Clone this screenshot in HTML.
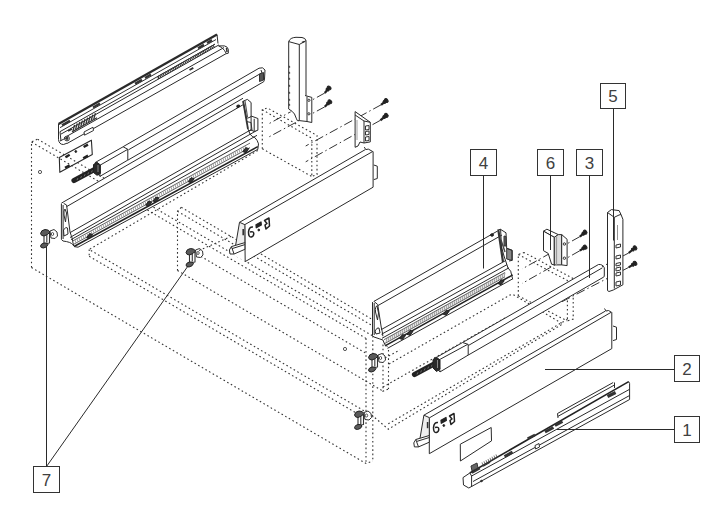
<!DOCTYPE html>
<html><head><meta charset="utf-8"><style>
html,body{margin:0;padding:0;background:#fff;width:720px;height:519px;overflow:hidden}
svg{display:block;font-family:"Liberation Sans",sans-serif}
</style></head><body>
<svg width="720" height="519" viewBox="0 0 720 519"><polyline points="31.5,267.5 31.5,142 37.6,139.2" stroke="#333" stroke-width="1.1" fill="none" stroke-dasharray="1.6 2.6"/>
<polyline points="31.5,142 366,338.3515" stroke="#333" stroke-width="1.1" fill="none" stroke-dasharray="1.6 2.6"/>
<polyline points="37.6,139.2 372.8,335.9624" stroke="#333" stroke-width="1.1" fill="none" stroke-dasharray="1.6 2.6"/>
<polyline points="31.5,267.5 366,463.5 372.8,461" stroke="#333" stroke-width="1.1" fill="none" stroke-dasharray="1.6 2.6"/>
<polyline points="366,338.3515 366,463.5" stroke="#333" stroke-width="1.1" fill="none" stroke-dasharray="1.6 2.6"/>
<polyline points="372.8,335.9624 372.8,461" stroke="#333" stroke-width="1.1" fill="none" stroke-dasharray="1.6 2.6"/>
<polyline points="177.5,270.5 177.5,211.3 181.3,207.3" stroke="#333" stroke-width="1.1" fill="none" stroke-dasharray="1.6 2.6"/>
<polyline points="177.5,211.3 383,331.9285" stroke="#333" stroke-width="1.1" fill="none" stroke-dasharray="1.6 2.6"/>
<polyline points="181.3,207.3 388.5,328.9264" stroke="#333" stroke-width="1.1" fill="none" stroke-dasharray="1.6 2.6"/>
<polyline points="177.5,270.5 383,391.1285" stroke="#333" stroke-width="1.1" fill="none" stroke-dasharray="1.6 2.6"/>
<polyline points="383,331.9285 383,391.1285 388.5,389" stroke="#333" stroke-width="1.1" fill="none" stroke-dasharray="1.6 2.6"/>
<polyline points="388.5,328.9264 388.5,389" stroke="#333" stroke-width="1.1" fill="none" stroke-dasharray="1.6 2.6"/>
<polyline points="190,250 366,353.312" stroke="#333" stroke-width="1.1" fill="none" stroke-dasharray="1.6 2.6"/>
<polyline points="257.8,150.5 89.2,249.5 372.8,415.9732" stroke="#333" stroke-width="1.1" fill="none" stroke-dasharray="1.6 2.6"/>
<polyline points="89.2,256.3 366,418.7816" stroke="#333" stroke-width="1.1" fill="none" stroke-dasharray="1.6 2.6"/>
<polyline points="89.2,249.5 89.2,256.3" stroke="#333" stroke-width="1.1" fill="none" stroke-dasharray="1.6 2.6"/>
<polyline points="389,364 510,295 513,294.5 562.8,323.9 388.3,429.2 371.7,415" stroke="#333" stroke-width="1.1" fill="none" stroke-dasharray="1.6 2.6"/>
<polyline points="567.4,319.3 388.3,423.8" stroke="#333" stroke-width="1.1" fill="none" stroke-dasharray="1.6 2.6"/>
<polyline points="383,387 505,318" stroke="#333" stroke-width="1.1" fill="none" stroke-dasharray="1.6 2.6"/>
<polyline points="262.3,148.8 262.3,109.7 267.5,108" stroke="#333" stroke-width="1.1" fill="none" stroke-dasharray="1.6 2.6"/>
<polyline points="262.3,109.7 311.8,138.3 311.8,176.5 317,174.5 317,135.5 267.5,108" stroke="#333" stroke-width="1.1" fill="none" stroke-dasharray="1.6 2.6"/>
<polyline points="262.3,148.8 311.8,176.5" stroke="#333" stroke-width="1.1" fill="none" stroke-dasharray="1.6 2.6"/>
<polyline points="518.3,295.9 518.3,254.5 524.1,252.5" stroke="#333" stroke-width="1.1" fill="none" stroke-dasharray="1.6 2.6"/>
<polyline points="518.3,254.5 567.4,280.5 567.4,321 573.2,319 573.2,278.5 524.1,252.5" stroke="#333" stroke-width="1.1" fill="none" stroke-dasharray="1.6 2.6"/>
<polyline points="518.3,295.9 567.4,321" stroke="#333" stroke-width="1.1" fill="none" stroke-dasharray="1.6 2.6"/>
<polyline points="324.8,93 267.5,124.5" stroke="#333" stroke-width="1" fill="none" stroke-dasharray="9 3 1.5 3"/>
<polyline points="324.8,106.8 267.5,137.7" stroke="#333" stroke-width="1" fill="none" stroke-dasharray="9 3 1.5 3"/>
<polyline points="381.1,104.8 305.7,146" stroke="#333" stroke-width="1" fill="none" stroke-dasharray="9 3 1.5 3"/>
<polyline points="380.4,120.3 305.7,161.8" stroke="#333" stroke-width="1" fill="none" stroke-dasharray="9 3 1.5 3"/>
<polyline points="579.9,236.6 522.2,268.9" stroke="#333" stroke-width="1" fill="none" stroke-dasharray="9 3 1.5 3"/>
<polyline points="579.9,250.7 522.2,283.4" stroke="#333" stroke-width="1" fill="none" stroke-dasharray="9 3 1.5 3"/>
<polyline points="628.7,253 560,288.3" stroke="#333" stroke-width="1" fill="none" stroke-dasharray="9 3 1.5 3"/>
<polyline points="628.7,267.4 560,302.7" stroke="#333" stroke-width="1" fill="none" stroke-dasharray="9 3 1.5 3"/>
<polygon points="58.5,124 217,34.5 218,44 228,50 227,54 67,143.5 60,143" stroke="none" stroke-width="0" fill="#fff" stroke-linejoin="round"/>
<line x1="58.5" y1="124" x2="217" y2="34.495050000000006" stroke="#2a2a2a" stroke-width="2.2"/>
<line x1="217" y1="34.5" x2="218" y2="43.5" stroke="#2a2a2a" stroke-width="1"/>
<line x1="60" y1="131.65295" x2="215" y2="44.12445000000001" stroke="#2a2a2a" stroke-width="1"/>
<line x1="61" y1="134.08825000000002" x2="219" y2="44.86565" stroke="#2a2a2a" stroke-width="1"/>
<line x1="64" y1="137.89415" x2="224" y2="47.54215000000001" stroke="#2a2a2a" stroke-width="1"/>
<line x1="67" y1="143.50005000000002" x2="226.6" y2="53.37393" stroke="#2a2a2a" stroke-width="1"/>
<path d="M58.5,124 L58.5,139.5 Q59,144.5 63.5,144.5 L67,143.2" stroke="#2a2a2a" stroke-width="1" fill="none" stroke-linejoin="round"/>
<line x1="60" y1="131.7" x2="61" y2="141" stroke="#2a2a2a" stroke-width="1"/>
<path d="M218.6,45.9 L224.4,45.9 Q227.5,46.5 228.3,49.3 L228.3,53.2 L226.4,53.7" stroke="#2a2a2a" stroke-width="1" fill="none" stroke-linejoin="round"/>
<line x1="224.4" y1="50.3" x2="226.4" y2="53.7" stroke="#2a2a2a" stroke-width="1"/>
<path d="M218.6,45.9 Q222,47 224.4,50.3" stroke="#2a2a2a" stroke-width="1" fill="none" stroke-linejoin="round"/>
<line x1="226.5" y1="48" x2="227" y2="52" stroke="#333" stroke-width="1.5"/>
<line x1="158.0" y1="76.31235000000001" x2="159.3" y2="78.57824" stroke="#333" stroke-width="1.1"/>
<line x1="159.67" y1="75.36930100000001" x2="160.97" y2="77.635191" stroke="#333" stroke-width="1.1"/>
<line x1="161.34" y1="74.426252" x2="162.64000000000001" y2="76.69214199999999" stroke="#333" stroke-width="1.1"/>
<line x1="163.01" y1="73.483203" x2="164.31" y2="75.749093" stroke="#333" stroke-width="1.1"/>
<line x1="164.68" y1="72.540154" x2="165.98000000000002" y2="74.80604399999999" stroke="#333" stroke-width="1.1"/>
<line x1="166.35" y1="71.597105" x2="167.65" y2="73.862995" stroke="#333" stroke-width="1.1"/>
<line x1="168.02" y1="70.654056" x2="169.32000000000002" y2="72.91994599999998" stroke="#333" stroke-width="1.1"/>
<line x1="169.69" y1="69.711007" x2="170.99" y2="71.976897" stroke="#333" stroke-width="1.1"/>
<line x1="171.36" y1="68.767958" x2="172.66000000000003" y2="71.03384799999999" stroke="#333" stroke-width="1.1"/>
<line x1="173.03" y1="67.824909" x2="174.33" y2="70.09079899999999" stroke="#333" stroke-width="1.1"/>
<line x1="174.7" y1="66.88186" x2="176.0" y2="69.14775" stroke="#333" stroke-width="1.1"/>
<line x1="176.37" y1="65.938811" x2="177.67000000000002" y2="68.204701" stroke="#333" stroke-width="1.1"/>
<line x1="178.04" y1="64.99576200000001" x2="179.34" y2="67.261652" stroke="#333" stroke-width="1.1"/>
<line x1="179.71" y1="64.052713" x2="181.01000000000002" y2="66.318603" stroke="#333" stroke-width="1.1"/>
<line x1="181.38" y1="63.10966400000001" x2="182.68" y2="65.375554" stroke="#333" stroke-width="1.1"/>
<line x1="183.05" y1="62.16661499999999" x2="184.35000000000002" y2="64.43250499999999" stroke="#333" stroke-width="1.1"/>
<line x1="184.72" y1="61.223566000000005" x2="186.02" y2="63.48945599999999" stroke="#333" stroke-width="1.1"/>
<line x1="186.39" y1="60.280517" x2="187.69" y2="62.546407" stroke="#333" stroke-width="1.1"/>
<line x1="188.06" y1="59.337468" x2="189.36" y2="61.603358" stroke="#333" stroke-width="1.1"/>
<line x1="189.73" y1="58.39441900000001" x2="191.03" y2="60.660309" stroke="#333" stroke-width="1.1"/>
<line x1="191.4" y1="57.45137" x2="192.70000000000002" y2="59.717259999999996" stroke="#333" stroke-width="1.1"/>
<line x1="193.07" y1="56.50832100000001" x2="194.37" y2="58.774210999999994" stroke="#333" stroke-width="1.1"/>
<line x1="194.74" y1="55.56527199999999" x2="196.04000000000002" y2="57.83116199999999" stroke="#333" stroke-width="1.1"/>
<line x1="196.41" y1="54.622223000000005" x2="197.71" y2="56.888113000000004" stroke="#333" stroke-width="1.1"/>
<line x1="198.07999999999998" y1="53.67917400000002" x2="199.38" y2="55.945064" stroke="#333" stroke-width="1.1"/>
<line x1="199.75" y1="52.736125" x2="201.05" y2="55.002015" stroke="#333" stroke-width="1.1"/>
<line x1="201.42000000000002" y1="51.793076" x2="202.72000000000003" y2="54.058965999999984" stroke="#333" stroke-width="1.1"/>
<line x1="203.09" y1="50.850027" x2="204.39000000000001" y2="53.115916999999996" stroke="#333" stroke-width="1.1"/>
<line x1="204.76" y1="49.90697800000001" x2="206.06" y2="52.17286800000001" stroke="#333" stroke-width="1.1"/>
<line x1="206.43" y1="48.96392899999999" x2="207.73000000000002" y2="51.22981899999999" stroke="#333" stroke-width="1.1"/>
<line x1="208.1" y1="48.020880000000005" x2="209.4" y2="50.286770000000004" stroke="#333" stroke-width="1.1"/>
<line x1="209.76999999999998" y1="47.07783100000002" x2="211.07" y2="49.343721" stroke="#333" stroke-width="1.1"/>
<line x1="211.44" y1="46.134782" x2="212.74" y2="48.400672" stroke="#333" stroke-width="1.1"/>
<line x1="213.11" y1="45.191733" x2="214.41000000000003" y2="47.457622999999984" stroke="#333" stroke-width="1.1"/>
<line x1="158" y1="76.31235000000001" x2="215" y2="44.12445000000001" stroke="#333" stroke-width="0.8"/>
<line x1="158" y1="76.31235000000001" x2="158.5" y2="79.03" stroke="#333" stroke-width="1.2"/>
<line x1="189.5" y1="70.0243" x2="193.3" y2="67.87844" stroke="#333" stroke-width="1.8"/>
<line x1="62" y1="125.22355" x2="70" y2="120.70595" stroke="#333" stroke-width="2.4"/>
<line x1="93" y1="107.51785" x2="100" y2="103.56495" stroke="#333" stroke-width="2.4"/>
<line x1="135" y1="83.80045000000001" x2="142" y2="79.84755" stroke="#333" stroke-width="2.4"/>
<line x1="145" y1="77.95344999999999" x2="151" y2="74.56525" stroke="#333" stroke-width="2.4"/>
<line x1="198" y1="48.22435" x2="204" y2="44.83615" stroke="#333" stroke-width="2.4"/>
<line x1="207" y1="42.942049999999995" x2="212" y2="40.11855" stroke="#333" stroke-width="2.4"/>
<line x1="60" y1="127.65295" x2="216" y2="39.55975000000001" stroke="#333" stroke-width="1"/>
<line x1="73.0" y1="130.81185" x2="74.6" y2="124.90833" stroke="#333" stroke-width="1.3"/>
<line x1="75.6" y1="129.34363000000002" x2="77.19999999999999" y2="123.44011" stroke="#333" stroke-width="1.3"/>
<line x1="78.2" y1="127.87541" x2="79.8" y2="121.97189" stroke="#333" stroke-width="1.3"/>
<line x1="80.8" y1="126.40719" x2="82.39999999999999" y2="120.50367" stroke="#333" stroke-width="1.3"/>
<line x1="83.4" y1="124.93897" x2="85.0" y2="119.03545" stroke="#333" stroke-width="1.3"/>
<line x1="86.0" y1="123.47075" x2="87.6" y2="117.56723" stroke="#333" stroke-width="1.3"/>
<line x1="88.6" y1="122.00253000000001" x2="90.19999999999999" y2="116.09901" stroke="#333" stroke-width="1.3"/>
<line x1="91.2" y1="120.53431" x2="92.8" y2="114.63079" stroke="#333" stroke-width="1.3"/>
<line x1="93.8" y1="119.06609" x2="95.39999999999999" y2="113.16257" stroke="#333" stroke-width="1.3"/>
<line x1="72" y1="131.87655" x2="97" y2="117.75905" stroke="#333" stroke-width="1.2"/>
<polygon points="84,132 93,127.2 93.5,130.5 84.5,135.2" stroke="#333" stroke-width="1" fill="#fff" stroke-linejoin="round"/>
<ellipse cx="67" cy="138.5" rx="2.4" ry="2.4" transform="rotate(0 67 138.5)" fill="#fff" stroke="#333" stroke-width="1"/>
<ellipse cx="67" cy="138.5" rx="1" ry="1" transform="rotate(0 67 138.5)" fill="#333" stroke="#333" stroke-width="1"/>
<line x1="60" y1="141" x2="68" y2="137" stroke="#333" stroke-width="1"/>
<line x1="68" y1="131" x2="72" y2="129" stroke="#333" stroke-width="1.5"/>
<polygon points="95.4,162.4 259,68.2 265,71 263,83 100,176.3 95.6,172" stroke="none" stroke-width="0" fill="#fff" stroke-linejoin="round"/>
<line x1="123.1" y1="146.70975" x2="259" y2="68.2275" stroke="#2a2a2a" stroke-width="1"/>
<line x1="128.5" y1="149.79125" x2="262" y2="72.695" stroke="#2a2a2a" stroke-width="1"/>
<line x1="127.8" y1="160.19549999999998" x2="263" y2="82.11749999999999" stroke="#2a2a2a" stroke-width="1"/>
<path d="M259,68.2 Q263,66.5 265,70 L264.5,79 Q264,82.5 263,82.1" stroke="#2a2a2a" stroke-width="1" fill="none" stroke-linejoin="round"/>
<line x1="261" y1="70" x2="262" y2="72.695" stroke="#2a2a2a" stroke-width="1"/>
<polygon points="259.5,74 263.5,72.5 263.5,80 259.5,81.5" stroke="#333" stroke-width="1" fill="#555" stroke-linejoin="round"/>
<polygon points="123.1,146.8 95.4,162.4 95.8,172 100,176.3 127.8,160.1 127.8,149.3 123.1,146.8" stroke="#2a2a2a" stroke-width="1" fill="#fff" stroke-linejoin="round"/>
<line x1="95.4" y1="162.4" x2="99.5" y2="165.5" stroke="#2a2a2a" stroke-width="1"/>
<line x1="99.5" y1="165.5" x2="127.8" y2="149.3" stroke="#2a2a2a" stroke-width="1"/>
<line x1="99.5" y1="165.5" x2="100" y2="176.3" stroke="#2a2a2a" stroke-width="1"/>
<line x1="74" y1="180.5" x2="95" y2="169.3" stroke="#222" stroke-width="5.2" stroke-linecap="round"/>
<line x1="77.0" y1="180.101" x2="77.9" y2="178.08069999999998" stroke="#777" stroke-width="0.9"/>
<line x1="80.6" y1="178.1822" x2="81.5" y2="176.1619" stroke="#777" stroke-width="0.9"/>
<line x1="84.2" y1="176.2634" x2="85.10000000000001" y2="174.2431" stroke="#777" stroke-width="0.9"/>
<line x1="87.8" y1="174.34459999999999" x2="88.7" y2="172.3243" stroke="#777" stroke-width="0.9"/>
<line x1="91.4" y1="172.42579999999998" x2="92.30000000000001" y2="170.4055" stroke="#777" stroke-width="0.9"/>
<polygon points="93.5,164.5 97,162.3 100.4,165 100.4,173.5 97,175.3 93.5,172.5" stroke="#222" stroke-width="1" fill="#2a2a2a" stroke-linejoin="round"/>
<line x1="98" y1="165" x2="98" y2="172" stroke="#888" stroke-width="1"/>
<polygon points="61.4,203.7 243,98.5 247,101 248,117 258,118.5 258,149 78,247.5 72,245 61.4,240" stroke="none" stroke-width="0" fill="#fff" stroke-linejoin="round"/>
<line x1="61.4" y1="203.14149999999998" x2="243" y2="98.26749999999998" stroke="#2a2a2a" stroke-width="1"/>
<line x1="66.6" y1="206.6385" x2="247" y2="102.45749999999998" stroke="#2a2a2a" stroke-width="1"/>
<line x1="78" y1="247.2104347826087" x2="257.8" y2="149.33669565217394" stroke="#2a2a2a" stroke-width="1"/>
<line x1="74" y1="246.47826086956522" x2="257.8" y2="146.58695652173913" stroke="#222" stroke-width="1.5"/>
<line x1="71" y1="239.6521739130435" x2="257" y2="135.3304347826087" stroke="#2a2a2a" stroke-width="1"/>
<line x1="70" y1="237.49565217391304" x2="256.5" y2="130.62304347826085" stroke="#2a2a2a" stroke-width="1"/>
<line x1="70" y1="232.6304347826087" x2="256" y2="126.85304347826086" stroke="#2a2a2a" stroke-width="1"/>
<line x1="75" y1="240.02173913043478" x2="76.0" y2="242.7382608695652" stroke="#888" stroke-width="0.8"/>
<line x1="77" y1="238.91739130434783" x2="78.0" y2="241.64086956521737" stroke="#888" stroke-width="0.8"/>
<line x1="79" y1="237.81304347826088" x2="80.0" y2="240.54347826086953" stroke="#888" stroke-width="0.8"/>
<line x1="81" y1="236.7086956521739" x2="82.0" y2="239.44608695652173" stroke="#888" stroke-width="0.8"/>
<line x1="83" y1="235.60434782608695" x2="84.0" y2="238.3486956521739" stroke="#888" stroke-width="0.8"/>
<line x1="85" y1="234.5" x2="86.0" y2="237.25130434782608" stroke="#888" stroke-width="0.8"/>
<line x1="87" y1="233.39565217391305" x2="88.0" y2="236.15391304347824" stroke="#888" stroke-width="0.8"/>
<line x1="89" y1="232.2913043478261" x2="90.0" y2="235.05652173913043" stroke="#888" stroke-width="0.8"/>
<line x1="91" y1="231.18695652173912" x2="92.0" y2="233.9591304347826" stroke="#888" stroke-width="0.8"/>
<line x1="93" y1="230.08260869565217" x2="94.0" y2="232.86173913043476" stroke="#888" stroke-width="0.8"/>
<line x1="95" y1="228.97826086956522" x2="96.0" y2="231.76434782608695" stroke="#888" stroke-width="0.8"/>
<line x1="97" y1="227.87391304347827" x2="98.0" y2="230.6669565217391" stroke="#888" stroke-width="0.8"/>
<line x1="99" y1="226.76956521739132" x2="100.0" y2="229.5695652173913" stroke="#888" stroke-width="0.8"/>
<line x1="101" y1="225.66521739130434" x2="102.0" y2="228.47217391304346" stroke="#888" stroke-width="0.8"/>
<line x1="103" y1="224.5608695652174" x2="104.0" y2="227.37478260869563" stroke="#888" stroke-width="0.8"/>
<line x1="105" y1="223.45652173913044" x2="106.0" y2="226.27739130434782" stroke="#888" stroke-width="0.8"/>
<line x1="107" y1="222.3521739130435" x2="108.0" y2="225.17999999999998" stroke="#888" stroke-width="0.8"/>
<line x1="109" y1="221.24782608695654" x2="110.0" y2="224.08260869565217" stroke="#888" stroke-width="0.8"/>
<line x1="111" y1="220.14347826086956" x2="112.0" y2="222.98521739130433" stroke="#888" stroke-width="0.8"/>
<line x1="113" y1="219.0391304347826" x2="114.0" y2="221.8878260869565" stroke="#888" stroke-width="0.8"/>
<line x1="115" y1="217.93478260869566" x2="116.0" y2="220.79043478260868" stroke="#888" stroke-width="0.8"/>
<line x1="117" y1="216.8304347826087" x2="118.0" y2="219.69304347826085" stroke="#888" stroke-width="0.8"/>
<line x1="119" y1="215.72608695652173" x2="120.0" y2="218.59565217391304" stroke="#888" stroke-width="0.8"/>
<line x1="121" y1="214.62173913043478" x2="122.0" y2="217.4982608695652" stroke="#888" stroke-width="0.8"/>
<line x1="123" y1="213.51739130434783" x2="124.0" y2="216.40086956521736" stroke="#888" stroke-width="0.8"/>
<line x1="125" y1="212.41304347826087" x2="126.0" y2="215.30347826086955" stroke="#888" stroke-width="0.8"/>
<line x1="127" y1="211.30869565217392" x2="128.0" y2="214.20608695652172" stroke="#888" stroke-width="0.8"/>
<line x1="129" y1="210.20434782608694" x2="130.0" y2="213.1086956521739" stroke="#888" stroke-width="0.8"/>
<line x1="131" y1="209.1" x2="132.0" y2="212.01130434782607" stroke="#888" stroke-width="0.8"/>
<line x1="133" y1="207.99565217391304" x2="134.0" y2="210.91391304347826" stroke="#888" stroke-width="0.8"/>
<line x1="135" y1="206.8913043478261" x2="136.0" y2="209.81652173913042" stroke="#888" stroke-width="0.8"/>
<line x1="137" y1="205.78695652173914" x2="138.0" y2="208.71913043478258" stroke="#888" stroke-width="0.8"/>
<line x1="139" y1="204.68260869565216" x2="140.0" y2="207.62173913043478" stroke="#888" stroke-width="0.8"/>
<line x1="141" y1="203.5782608695652" x2="142.0" y2="206.52434782608694" stroke="#888" stroke-width="0.8"/>
<line x1="143" y1="202.47391304347826" x2="144.0" y2="205.4269565217391" stroke="#888" stroke-width="0.8"/>
<line x1="145" y1="201.3695652173913" x2="146.0" y2="204.3295652173913" stroke="#888" stroke-width="0.8"/>
<line x1="147" y1="200.26521739130436" x2="148.0" y2="203.23217391304345" stroke="#888" stroke-width="0.8"/>
<line x1="149" y1="199.16086956521738" x2="150.0" y2="202.13478260869564" stroke="#888" stroke-width="0.8"/>
<line x1="151" y1="198.05652173913043" x2="152.0" y2="201.0373913043478" stroke="#888" stroke-width="0.8"/>
<line x1="153" y1="196.95217391304348" x2="154.0" y2="199.94" stroke="#888" stroke-width="0.8"/>
<line x1="155" y1="195.84782608695653" x2="156.0" y2="198.84260869565216" stroke="#888" stroke-width="0.8"/>
<line x1="157" y1="194.74347826086955" x2="158.0" y2="197.74521739130432" stroke="#888" stroke-width="0.8"/>
<line x1="159" y1="193.6391304347826" x2="160.0" y2="196.6478260869565" stroke="#888" stroke-width="0.8"/>
<line x1="161" y1="192.53478260869565" x2="162.0" y2="195.55043478260868" stroke="#888" stroke-width="0.8"/>
<line x1="163" y1="191.4304347826087" x2="164.0" y2="194.45304347826084" stroke="#888" stroke-width="0.8"/>
<line x1="165" y1="190.32608695652175" x2="166.0" y2="193.35565217391303" stroke="#888" stroke-width="0.8"/>
<line x1="167" y1="189.2217391304348" x2="168.0" y2="192.25826086956522" stroke="#888" stroke-width="0.8"/>
<line x1="169" y1="188.11739130434782" x2="170.0" y2="191.16086956521738" stroke="#888" stroke-width="0.8"/>
<line x1="171" y1="187.01304347826087" x2="172.0" y2="190.06347826086954" stroke="#888" stroke-width="0.8"/>
<line x1="173" y1="185.90869565217392" x2="174.0" y2="188.96608695652174" stroke="#888" stroke-width="0.8"/>
<line x1="175" y1="184.80434782608694" x2="176.0" y2="187.8686956521739" stroke="#888" stroke-width="0.8"/>
<line x1="177" y1="183.7" x2="178.0" y2="186.77130434782606" stroke="#888" stroke-width="0.8"/>
<line x1="179" y1="182.59565217391304" x2="180.0" y2="185.67391304347825" stroke="#888" stroke-width="0.8"/>
<line x1="181" y1="181.4913043478261" x2="182.0" y2="184.5765217391304" stroke="#888" stroke-width="0.8"/>
<line x1="183" y1="180.38695652173914" x2="184.0" y2="183.4791304347826" stroke="#888" stroke-width="0.8"/>
<line x1="185" y1="179.2826086956522" x2="186.0" y2="182.38173913043477" stroke="#888" stroke-width="0.8"/>
<line x1="187" y1="178.1782608695652" x2="188.0" y2="181.28434782608696" stroke="#888" stroke-width="0.8"/>
<line x1="189" y1="177.07391304347826" x2="190.0" y2="180.18695652173912" stroke="#888" stroke-width="0.8"/>
<line x1="191" y1="175.9695652173913" x2="192.0" y2="179.08956521739128" stroke="#888" stroke-width="0.8"/>
<line x1="193" y1="174.86521739130436" x2="194.0" y2="177.99217391304347" stroke="#888" stroke-width="0.8"/>
<line x1="195" y1="173.76086956521738" x2="196.0" y2="176.89478260869564" stroke="#888" stroke-width="0.8"/>
<line x1="197" y1="172.65652173913043" x2="198.0" y2="175.7973913043478" stroke="#888" stroke-width="0.8"/>
<line x1="199" y1="171.55217391304348" x2="200.0" y2="174.7" stroke="#888" stroke-width="0.8"/>
<line x1="201" y1="170.44782608695652" x2="202.0" y2="173.60260869565218" stroke="#888" stroke-width="0.8"/>
<line x1="203" y1="169.34347826086957" x2="204.0" y2="172.5052173913043" stroke="#888" stroke-width="0.8"/>
<line x1="205" y1="168.23913043478262" x2="206.0" y2="171.4078260869565" stroke="#888" stroke-width="0.8"/>
<line x1="207" y1="167.13478260869567" x2="208.0" y2="170.3104347826087" stroke="#888" stroke-width="0.8"/>
<line x1="209" y1="166.0304347826087" x2="210.0" y2="169.21304347826086" stroke="#888" stroke-width="0.8"/>
<line x1="211" y1="164.92608695652174" x2="212.0" y2="168.11565217391302" stroke="#888" stroke-width="0.8"/>
<line x1="213" y1="163.82173913043476" x2="214.0" y2="167.0182608695652" stroke="#888" stroke-width="0.8"/>
<line x1="215" y1="162.7173913043478" x2="216.0" y2="165.9208695652174" stroke="#888" stroke-width="0.8"/>
<line x1="217" y1="161.61304347826086" x2="218.0" y2="164.82347826086954" stroke="#888" stroke-width="0.8"/>
<line x1="219" y1="160.5086956521739" x2="220.0" y2="163.72608695652173" stroke="#888" stroke-width="0.8"/>
<line x1="221" y1="159.40434782608696" x2="222.0" y2="162.62869565217392" stroke="#888" stroke-width="0.8"/>
<line x1="223" y1="158.3" x2="224.0" y2="161.53130434782608" stroke="#888" stroke-width="0.8"/>
<line x1="225" y1="157.19565217391306" x2="226.0" y2="160.43391304347824" stroke="#888" stroke-width="0.8"/>
<line x1="227" y1="156.09130434782608" x2="228.0" y2="159.33652173913043" stroke="#888" stroke-width="0.8"/>
<line x1="229" y1="154.98695652173913" x2="230.0" y2="158.2391304347826" stroke="#888" stroke-width="0.8"/>
<line x1="231" y1="153.88260869565218" x2="232.0" y2="157.14173913043476" stroke="#888" stroke-width="0.8"/>
<line x1="233" y1="152.7782608695652" x2="234.0" y2="156.04434782608695" stroke="#888" stroke-width="0.8"/>
<line x1="235" y1="151.67391304347825" x2="236.0" y2="154.94695652173914" stroke="#888" stroke-width="0.8"/>
<line x1="237" y1="150.5695652173913" x2="238.0" y2="153.84956521739127" stroke="#888" stroke-width="0.8"/>
<line x1="239" y1="149.46521739130435" x2="240.0" y2="152.75217391304346" stroke="#888" stroke-width="0.8"/>
<line x1="241" y1="148.3608695652174" x2="242.0" y2="151.65478260869565" stroke="#888" stroke-width="0.8"/>
<line x1="243" y1="147.25652173913045" x2="244.0" y2="150.55739130434782" stroke="#888" stroke-width="0.8"/>
<line x1="245" y1="146.1521739130435" x2="246.0" y2="149.45999999999998" stroke="#888" stroke-width="0.8"/>
<line x1="73" y1="240.82608695652172" x2="250" y2="143.09130434782608" stroke="#444" stroke-width="0.8"/>
<line x1="73" y1="244.68434782608696" x2="250" y2="147.56521739130437" stroke="#444" stroke-width="0.8"/>
<polygon points="86.7,237.56295652173912 89.7,233.56295652173912 92.7,234.56295652173912 89.7,238.56295652173912" stroke="#222" stroke-width="1" fill="#333" stroke-linejoin="round"/>
<polygon points="145.7,205.0873043478261 148.7,201.0873043478261 151.7,202.0873043478261 148.7,206.0873043478261" stroke="#222" stroke-width="1" fill="#333" stroke-linejoin="round"/>
<polygon points="153,201.0691304347826 156,197.0691304347826 159,198.0691304347826 156,202.0691304347826" stroke="#222" stroke-width="1" fill="#333" stroke-linejoin="round"/>
<polygon points="188.2,181.69382608695653 191.2,177.69382608695653 194.2,178.69382608695653 191.2,182.69382608695653" stroke="#222" stroke-width="1" fill="#333" stroke-linejoin="round"/>
<polygon points="242.8,151.6400869565217 245.8,147.6400869565217 248.8,148.6400869565217 245.8,152.6400869565217" stroke="#222" stroke-width="1" fill="#333" stroke-linejoin="round"/>
<path d="M61.4,203.7 L61.4,239.5 L63,241 Q71,242 72.5,244.5 Q74,247.5 78,247.2" stroke="#2a2a2a" stroke-width="1" fill="none" stroke-linejoin="round"/>
<path d="M63.7,203.4 L66.6,205 L70,232 Q71.5,236 72.3,238.9 L73.5,245.9" stroke="#2a2a2a" stroke-width="1" fill="none" stroke-linejoin="round"/>
<line x1="63.1" y1="205" x2="63.1" y2="239" stroke="#2a2a2a" stroke-width="1"/>
<path d="M63.5,230 Q66,226 67.5,228 L68,234 L64,236 Z" stroke="#2a2a2a" stroke-width="1" fill="none" stroke-linejoin="round"/>
<path d="M64,215 Q63.5,210 65,209 L66.5,213 L65.5,222 Z" stroke="#2a2a2a" stroke-width="1" fill="none" stroke-linejoin="round"/>
<polygon points="243.1,101.2 247.4,99.4 251.1,102.5 251.1,116.7 248,118 246.5,118" stroke="#2a2a2a" stroke-width="1" fill="#fff" stroke-linejoin="round"/>
<line x1="243.1" y1="101.2" x2="248" y2="129" stroke="#333" stroke-width="1.8"/>
<line x1="245" y1="101" x2="247.5" y2="117" stroke="#555" stroke-width="1.2"/>
<polygon points="251.1,116 257.9,118.5 257.9,130.2 254.2,131.5 251.1,130" stroke="#2a2a2a" stroke-width="1" fill="#fff" stroke-linejoin="round"/>
<line x1="254.2" y1="118.8" x2="254.2" y2="131.5" stroke="#2a2a2a" stroke-width="1"/>
<polyline points="246.8,121.6 251,122.5 252,130 249,131" stroke="#333" stroke-width="1" fill="none" stroke-linejoin="round"/>
<path d="M248,129 L250,134 Q252,137 254.8,137.6 Q257.5,140 258.5,143.8 L257.8,149.4" stroke="#2a2a2a" stroke-width="1" fill="none" stroke-linejoin="round"/>
<ellipse cx="238.2" cy="106.2" rx="1.5" ry="1.1" transform="rotate(-30 238.2 106.2)" fill="#222" stroke="#222" stroke-width="1"/>
<polygon points="59.3,157.5 91.4,140.2 92.3,154.5 59.8,172.3" stroke="#2a2a2a" stroke-width="1.1" fill="none" stroke-linejoin="round"/>
<line x1="65.4" y1="157.2" x2="69.7" y2="154.8" stroke="#222" stroke-width="2.4"/>
<line x1="83.6" y1="147" x2="88" y2="144.6" stroke="#222" stroke-width="2.4"/>
<line x1="83.2" y1="158.2" x2="88" y2="155.6" stroke="#222" stroke-width="2.4"/>
<line x1="65" y1="167.8" x2="69.7" y2="165.4" stroke="#222" stroke-width="2.4"/>
<ellipse cx="75.8" cy="151.5" rx="0.9" ry="0.9" transform="rotate(0 75.8 151.5)" fill="#222" stroke="#222" stroke-width="1"/>
<polygon points="288.2,41 293.7,37.7 305.6,41 305.6,95.8 312.9,98.6 312.9,121.4 298.3,121.4 288.2,108.6" stroke="none" stroke-width="0" fill="#fff" stroke-linejoin="round"/>
<path d="M288.7,109 L288.7,41.6 Q290,37.6 296,37.3 L302,37.5 Q305.5,38 306,40.6 L306,95.5" stroke="#2a2a2a" stroke-width="1" fill="none" stroke-linejoin="round"/>
<line x1="288.7" y1="41.6" x2="299.3" y2="44.5" stroke="#2a2a2a" stroke-width="1"/>
<line x1="299.3" y1="44.5" x2="306" y2="40.6" stroke="#2a2a2a" stroke-width="1"/>
<line x1="299.3" y1="44.5" x2="299.3" y2="120.6" stroke="#2a2a2a" stroke-width="1"/>
<line x1="302" y1="42.5" x2="304.5" y2="41.5" stroke="#333" stroke-width="1.5"/>
<path d="M288.7,109 Q292.5,111 294.5,114 Q296.5,119 297.3,120.6 L299.3,120.6" stroke="#2a2a2a" stroke-width="1" fill="none" stroke-linejoin="round"/>
<polyline points="305,95.5 311.8,97.4 311.8,122.5 307,121.5 299.3,120.6" stroke="#2a2a2a" stroke-width="1" fill="none" stroke-linejoin="round"/>
<line x1="307" y1="96.5" x2="307" y2="121.5" stroke="#2a2a2a" stroke-width="1"/>
<ellipse cx="308.9" cy="100.3" rx="1.1" ry="1.1" transform="rotate(0 308.9 100.3)" fill="#fff" stroke="#333" stroke-width="1"/>
<ellipse cx="308.9" cy="113.8" rx="1.1" ry="1.1" transform="rotate(0 308.9 113.8)" fill="#fff" stroke="#333" stroke-width="1"/>
<line x1="288.7" y1="66" x2="290" y2="67.5" stroke="#444" stroke-width="1.2"/>
<line x1="288.7" y1="72" x2="290" y2="73.5" stroke="#444" stroke-width="1.2"/>
<line x1="288.7" y1="78" x2="290" y2="79.5" stroke="#444" stroke-width="1.2"/>
<line x1="288.7" y1="85" x2="290" y2="86.5" stroke="#444" stroke-width="1.2"/>
<line x1="288.7" y1="92" x2="290" y2="93.5" stroke="#444" stroke-width="1.2"/>
<line x1="288.7" y1="99" x2="290" y2="100.5" stroke="#444" stroke-width="1.2"/>
<line x1="288.7" y1="104" x2="290" y2="105.5" stroke="#444" stroke-width="1.2"/>
<polygon points="355.1,111.6 370.3,122.3 370.3,141.9 364,143 360,142 358,146 355.1,147.3" stroke="#2a2a2a" stroke-width="1" fill="#fff" stroke-linejoin="round"/>
<line x1="355.1" y1="115" x2="364" y2="121" stroke="#2a2a2a" stroke-width="1"/>
<line x1="364" y1="121" x2="370.3" y2="122.3" stroke="#2a2a2a" stroke-width="1"/>
<line x1="364" y1="121" x2="364" y2="143" stroke="#2a2a2a" stroke-width="1"/>
<polygon points="365.5,126.0 369,125.5 369,129.5 365.5,130.0" stroke="#333" stroke-width="1" fill="#fff" stroke-linejoin="round"/>
<polygon points="365.5,131.5 369,131 369,134.5 365.5,135.0" stroke="#333" stroke-width="1" fill="#fff" stroke-linejoin="round"/>
<polygon points="365.5,137.0 369,136.5 369,140.5 365.5,141.0" stroke="#333" stroke-width="1" fill="#fff" stroke-linejoin="round"/>
<line x1="357" y1="120" x2="357" y2="140" stroke="#888" stroke-width="0.8"/>
<polygon points="543.5,231.2 546.9,229.2 558.3,234.6 554.3,237.3" stroke="#2a2a2a" stroke-width="1" fill="#fff" stroke-linejoin="round"/>
<polygon points="543.5,231.2 554.3,237.3 554.3,264.9 551.6,264.2 548.2,253.4 543.5,250.7" stroke="#2a2a2a" stroke-width="1" fill="#fff" stroke-linejoin="round"/>
<polygon points="554.3,237.3 558.3,234.6 561.7,234.6 561.7,264.9 554.3,264.9" stroke="#2a2a2a" stroke-width="1" fill="#ddd" stroke-linejoin="round"/>
<line x1="556.5" y1="236.5" x2="556.5" y2="264.9" stroke="#999" stroke-width="1.2"/>
<polygon points="561.7,234.6 567.1,239.3 567.1,265.6 561.7,264.9" stroke="#2a2a2a" stroke-width="1" fill="#fff" stroke-linejoin="round"/>
<ellipse cx="564.4" cy="244" rx="1.2" ry="1.2" transform="rotate(0 564.4 244)" fill="#fff" stroke="#333" stroke-width="1"/>
<ellipse cx="564.4" cy="258.2" rx="1.2" ry="1.2" transform="rotate(0 564.4 258.2)" fill="#fff" stroke="#333" stroke-width="1"/>
<polygon points="607.5,290.6 607.5,212.5 611.4,209.6 619.1,210.6 621,214.5 622.9,219.3 622.9,284.8 613.3,290 609,291.5" stroke="#2a2a2a" stroke-width="1" fill="#fff" stroke-linejoin="round"/>
<line x1="607.5" y1="212.5" x2="614.3" y2="217.3" stroke="#2a2a2a" stroke-width="1"/>
<line x1="614.3" y1="217.3" x2="619" y2="215" stroke="#2a2a2a" stroke-width="1"/>
<line x1="614.3" y1="217.3" x2="614.3" y2="288.6" stroke="#2a2a2a" stroke-width="1"/>
<line x1="619" y1="215" x2="621" y2="214.5" stroke="#2a2a2a" stroke-width="1"/>
<polygon points="616,245 620.5,244 620.5,247 616,248" stroke="#333" stroke-width="1" fill="#fff" stroke-linejoin="round"/>
<polygon points="616,256 620.5,255 620.5,258 616,259" stroke="#333" stroke-width="1" fill="#fff" stroke-linejoin="round"/>
<polygon points="616,263.5 620.5,262.5 620.5,265 616,266" stroke="#333" stroke-width="1" fill="#fff" stroke-linejoin="round"/>
<polygon points="616,268 620.5,267 620.5,270 616,271" stroke="#333" stroke-width="1" fill="#fff" stroke-linejoin="round"/>
<polygon points="616,273 620.5,272 620.5,275 616,276" stroke="#333" stroke-width="1" fill="#fff" stroke-linejoin="round"/>
<polygon points="616,282 620.5,281 620.5,285 616,286" stroke="#333" stroke-width="1" fill="#fff" stroke-linejoin="round"/>
<line x1="617.5" y1="225" x2="617.5" y2="240" stroke="#777" stroke-width="0.8"/>
<polygon points="372.5,302.1 500.6,229.4 506,232.8 506.7,248.3 512.5,251 512.7,280 387.5,348 381,342 372.5,336" stroke="none" stroke-width="0" fill="#fff" stroke-linejoin="round"/>
<line x1="373.7" y1="301.4897" x2="500.6" y2="229.2836" stroke="#2a2a2a" stroke-width="1"/>
<line x1="377.7" y1="305.7137" x2="502" y2="234.98700000000002" stroke="#2a2a2a" stroke-width="1"/>
<line x1="387.5" y1="348.3375" x2="512.7" y2="278.8515" stroke="#2a2a2a" stroke-width="1"/>
<line x1="385" y1="345.825" x2="512.7" y2="274.9515" stroke="#222" stroke-width="1.5"/>
<line x1="382" y1="338.28999999999996" x2="509" y2="267.80499999999995" stroke="#2a2a2a" stroke-width="1"/>
<line x1="381.5" y1="334.26750000000004" x2="507" y2="264.615" stroke="#2a2a2a" stroke-width="1"/>
<line x1="381.2" y1="329.634" x2="505" y2="260.925" stroke="#2a2a2a" stroke-width="1"/>
<line x1="386" y1="342.67" x2="387.0" y2="338.21500000000003" stroke="#888" stroke-width="0.8"/>
<line x1="388" y1="341.56" x2="389.0" y2="337.105" stroke="#888" stroke-width="0.8"/>
<line x1="390" y1="340.45" x2="391.0" y2="335.995" stroke="#888" stroke-width="0.8"/>
<line x1="392" y1="339.34" x2="393.0" y2="334.885" stroke="#888" stroke-width="0.8"/>
<line x1="394" y1="338.23" x2="395.0" y2="333.77500000000003" stroke="#888" stroke-width="0.8"/>
<line x1="396" y1="337.12" x2="397.0" y2="332.665" stroke="#888" stroke-width="0.8"/>
<line x1="398" y1="336.01" x2="399.0" y2="331.555" stroke="#888" stroke-width="0.8"/>
<line x1="400" y1="334.9" x2="401.0" y2="330.445" stroke="#888" stroke-width="0.8"/>
<line x1="402" y1="333.78999999999996" x2="403.0" y2="329.33500000000004" stroke="#888" stroke-width="0.8"/>
<line x1="404" y1="332.68" x2="405.0" y2="328.225" stroke="#888" stroke-width="0.8"/>
<line x1="406" y1="331.57" x2="407.0" y2="327.115" stroke="#888" stroke-width="0.8"/>
<line x1="408" y1="330.46" x2="409.0" y2="326.005" stroke="#888" stroke-width="0.8"/>
<line x1="410" y1="329.34999999999997" x2="411.0" y2="324.89500000000004" stroke="#888" stroke-width="0.8"/>
<line x1="412" y1="328.24" x2="413.0" y2="323.785" stroke="#888" stroke-width="0.8"/>
<line x1="414" y1="327.13" x2="415.0" y2="322.675" stroke="#888" stroke-width="0.8"/>
<line x1="416" y1="326.02" x2="417.0" y2="321.565" stroke="#888" stroke-width="0.8"/>
<line x1="418" y1="324.90999999999997" x2="419.0" y2="320.45500000000004" stroke="#888" stroke-width="0.8"/>
<line x1="420" y1="323.8" x2="421.0" y2="319.345" stroke="#888" stroke-width="0.8"/>
<line x1="422" y1="322.69" x2="423.0" y2="318.235" stroke="#888" stroke-width="0.8"/>
<line x1="424" y1="321.58" x2="425.0" y2="317.125" stroke="#888" stroke-width="0.8"/>
<line x1="426" y1="320.46999999999997" x2="427.0" y2="316.015" stroke="#888" stroke-width="0.8"/>
<line x1="428" y1="319.36" x2="429.0" y2="314.90500000000003" stroke="#888" stroke-width="0.8"/>
<line x1="430" y1="318.25" x2="431.0" y2="313.795" stroke="#888" stroke-width="0.8"/>
<line x1="432" y1="317.14" x2="433.0" y2="312.685" stroke="#888" stroke-width="0.8"/>
<line x1="434" y1="316.03" x2="435.0" y2="311.575" stroke="#888" stroke-width="0.8"/>
<line x1="436" y1="314.92" x2="437.0" y2="310.46500000000003" stroke="#888" stroke-width="0.8"/>
<line x1="438" y1="313.81" x2="439.0" y2="309.355" stroke="#888" stroke-width="0.8"/>
<line x1="440" y1="312.7" x2="441.0" y2="308.245" stroke="#888" stroke-width="0.8"/>
<line x1="442" y1="311.59" x2="443.0" y2="307.135" stroke="#888" stroke-width="0.8"/>
<line x1="444" y1="310.47999999999996" x2="445.0" y2="306.02500000000003" stroke="#888" stroke-width="0.8"/>
<line x1="446" y1="309.37" x2="447.0" y2="304.915" stroke="#888" stroke-width="0.8"/>
<line x1="448" y1="308.26" x2="449.0" y2="303.805" stroke="#888" stroke-width="0.8"/>
<line x1="450" y1="307.15" x2="451.0" y2="302.695" stroke="#888" stroke-width="0.8"/>
<line x1="452" y1="306.03999999999996" x2="453.0" y2="301.58500000000004" stroke="#888" stroke-width="0.8"/>
<line x1="454" y1="304.93" x2="455.0" y2="300.475" stroke="#888" stroke-width="0.8"/>
<line x1="456" y1="303.82" x2="457.0" y2="299.365" stroke="#888" stroke-width="0.8"/>
<line x1="458" y1="302.71" x2="459.0" y2="298.255" stroke="#888" stroke-width="0.8"/>
<line x1="460" y1="301.59999999999997" x2="461.0" y2="297.145" stroke="#888" stroke-width="0.8"/>
<line x1="462" y1="300.49" x2="463.0" y2="296.035" stroke="#888" stroke-width="0.8"/>
<line x1="464" y1="299.38" x2="465.0" y2="294.925" stroke="#888" stroke-width="0.8"/>
<line x1="466" y1="298.27" x2="467.0" y2="293.815" stroke="#888" stroke-width="0.8"/>
<line x1="468" y1="297.15999999999997" x2="469.0" y2="292.705" stroke="#888" stroke-width="0.8"/>
<line x1="470" y1="296.05" x2="471.0" y2="291.595" stroke="#888" stroke-width="0.8"/>
<line x1="472" y1="294.94" x2="473.0" y2="290.485" stroke="#888" stroke-width="0.8"/>
<line x1="474" y1="293.83" x2="475.0" y2="289.375" stroke="#888" stroke-width="0.8"/>
<line x1="476" y1="292.71999999999997" x2="477.0" y2="288.265" stroke="#888" stroke-width="0.8"/>
<line x1="478" y1="291.61" x2="479.0" y2="287.15500000000003" stroke="#888" stroke-width="0.8"/>
<line x1="480" y1="290.5" x2="481.0" y2="286.045" stroke="#888" stroke-width="0.8"/>
<line x1="482" y1="289.39" x2="483.0" y2="284.935" stroke="#888" stroke-width="0.8"/>
<line x1="484" y1="288.28" x2="485.0" y2="283.825" stroke="#888" stroke-width="0.8"/>
<line x1="486" y1="287.16999999999996" x2="487.0" y2="282.71500000000003" stroke="#888" stroke-width="0.8"/>
<line x1="488" y1="286.06" x2="489.0" y2="281.605" stroke="#888" stroke-width="0.8"/>
<line x1="490" y1="284.95" x2="491.0" y2="280.495" stroke="#888" stroke-width="0.8"/>
<line x1="492" y1="283.84" x2="493.0" y2="279.385" stroke="#888" stroke-width="0.8"/>
<line x1="494" y1="282.72999999999996" x2="495.0" y2="278.27500000000003" stroke="#888" stroke-width="0.8"/>
<line x1="496" y1="281.62" x2="497.0" y2="277.165" stroke="#888" stroke-width="0.8"/>
<line x1="498" y1="280.51" x2="499.0" y2="276.055" stroke="#888" stroke-width="0.8"/>
<line x1="500" y1="279.4" x2="501.0" y2="274.945" stroke="#888" stroke-width="0.8"/>
<line x1="502" y1="278.28999999999996" x2="503.0" y2="273.83500000000004" stroke="#888" stroke-width="0.8"/>
<line x1="504" y1="277.18" x2="505.0" y2="272.725" stroke="#888" stroke-width="0.8"/>
<line x1="384" y1="343.97999999999996" x2="505" y2="276.825" stroke="#444" stroke-width="0.8"/>
<line x1="384" y1="339.67999999999995" x2="505" y2="272.525" stroke="#444" stroke-width="0.8"/>
<polygon points="399.5,338.5125 402.5,334.5125 405.5,335.5125 402.5,339.5125" stroke="#222" stroke-width="1" fill="#333" stroke-linejoin="round"/>
<polygon points="407,334.34999999999997 410,330.34999999999997 413,331.34999999999997 410,335.34999999999997" stroke="#222" stroke-width="1" fill="#333" stroke-linejoin="round"/>
<polygon points="443.2,314.259 446.2,310.259 449.2,311.259 446.2,315.259" stroke="#222" stroke-width="1" fill="#333" stroke-linejoin="round"/>
<polygon points="498.2,283.734 501.2,279.734 504.2,280.734 501.2,284.734" stroke="#222" stroke-width="1" fill="#333" stroke-linejoin="round"/>
<path d="M372.5,302.1 L372.5,335.7 L374,337 Q380,339 382.9,340 Q384.5,346 387.5,346.6" stroke="#2a2a2a" stroke-width="1" fill="none" stroke-linejoin="round"/>
<path d="M374.2,301.6 L377.7,304.5 L381.2,327 Q382.5,332 382.9,336.2" stroke="#2a2a2a" stroke-width="1" fill="none" stroke-linejoin="round"/>
<line x1="374.2" y1="303" x2="374.2" y2="335" stroke="#2a2a2a" stroke-width="1"/>
<path d="M375.5,312 Q375,306 377,306 L378.5,313 L377.5,320 Z" stroke="#2a2a2a" stroke-width="1" fill="none" stroke-linejoin="round"/>
<path d="M375,331 Q377,327 379,328 L380,333 L376,334 Z" stroke="#2a2a2a" stroke-width="1" fill="none" stroke-linejoin="round"/>
<polyline points="497.2,230.1 500.6,229.4 506,232.8 506.7,248.3" stroke="#2a2a2a" stroke-width="1" fill="none" stroke-linejoin="round"/>
<line x1="500.6" y1="229.4" x2="501.5" y2="247" stroke="#2a2a2a" stroke-width="1"/>
<line x1="498.5" y1="231" x2="503" y2="262" stroke="#333" stroke-width="2.2"/>
<polygon points="506.7,248.3 512.1,250.3 512.1,260.4 506.7,259" stroke="#333" stroke-width="1" fill="#888" stroke-linejoin="round"/>
<line x1="501" y1="240" x2="505" y2="252" stroke="#444" stroke-width="1.4"/>
<polygon points="504,236 506,236.5 506,246 504,246" stroke="#333" stroke-width="1" fill="#666" stroke-linejoin="round"/>
<polyline points="506.7,248.3 512.1,250.3 512.1,260.4 509,261" stroke="#2a2a2a" stroke-width="1" fill="none" stroke-linejoin="round"/>
<polyline points="501.5,247 504,256 506,262 508,268 510.7,271.2 512.7,279.3" stroke="#2a2a2a" stroke-width="1" fill="none" stroke-linejoin="round"/>
<ellipse cx="492" cy="235" rx="1.5" ry="1.2" transform="rotate(0 492 235)" fill="#222" stroke="#222" stroke-width="1"/>
<polygon points="436.3,357.5 462.6,342.5 598.5,264.5 604.3,268 603.8,277 440,371.9 437.5,369.4" stroke="none" stroke-width="0" fill="#fff" stroke-linejoin="round"/>
<line x1="462.6" y1="342.5" x2="598.5" y2="264.5" stroke="#2a2a2a" stroke-width="1"/>
<line x1="468.2" y1="345.6" x2="602.4" y2="267.8" stroke="#2a2a2a" stroke-width="1"/>
<line x1="468.2" y1="355.1" x2="603.8" y2="277" stroke="#2a2a2a" stroke-width="1"/>
<path d="M598.5,264.5 Q602.4,264 604.3,267.8 L604.3,275 Q604.2,277 603.8,277" stroke="#2a2a2a" stroke-width="1" fill="none" stroke-linejoin="round"/>
<polygon points="436.3,357.5 462.6,342.5 468.2,344.4 468.2,355.1 440,371.9 437.5,369.4 436.3,357.5" stroke="#2a2a2a" stroke-width="1" fill="#fff" stroke-linejoin="round"/>
<line x1="438.8" y1="360" x2="467.6" y2="344.4" stroke="#2a2a2a" stroke-width="1"/>
<line x1="438.8" y1="360" x2="440" y2="371.9" stroke="#2a2a2a" stroke-width="1"/>
<line x1="414.5" y1="374.5" x2="435" y2="363.5" stroke="#222" stroke-width="5.2" stroke-linecap="round"/>
<line x1="417.0" y1="374.3575" x2="417.9" y2="372.3408" stroke="#777" stroke-width="0.9"/>
<line x1="420.6" y1="372.42429999999996" x2="421.5" y2="370.40759999999995" stroke="#777" stroke-width="0.9"/>
<line x1="424.2" y1="370.4911" x2="425.09999999999997" y2="368.4744" stroke="#777" stroke-width="0.9"/>
<line x1="427.8" y1="368.55789999999996" x2="428.7" y2="366.54119999999995" stroke="#777" stroke-width="0.9"/>
<line x1="431.4" y1="366.6247" x2="432.29999999999995" y2="364.608" stroke="#777" stroke-width="0.9"/>
<polygon points="433,359.5 436.5,357.3 440,360 440,369 436.5,371.5 433,368" stroke="#222" stroke-width="1" fill="#2a2a2a" stroke-linejoin="round"/>
<line x1="437.5" y1="360" x2="437.5" y2="368" stroke="#888" stroke-width="1"/>
<polygon points="423.9,415.2 605.5,311 611.8,312 611.8,348.6 429.3,453.7 414,447 414,441 420,439" stroke="none" stroke-width="0" fill="#fff" stroke-linejoin="round"/>
<line x1="423.9" y1="415.2" x2="605.5" y2="311" stroke="#2a2a2a" stroke-width="1"/>
<line x1="429.3" y1="417.9" x2="611.3" y2="312.2" stroke="#2a2a2a" stroke-width="1"/>
<line x1="429.3" y1="453.7" x2="611.8" y2="348.6" stroke="#2a2a2a" stroke-width="1"/>
<line x1="611.8" y1="312.2" x2="611.8" y2="348.6" stroke="#2a2a2a" stroke-width="1"/>
<line x1="429.3" y1="418.9" x2="429.3" y2="453.7" stroke="#2a2a2a" stroke-width="1"/>
<polyline points="604.5,308.5 606.0,311 608.5,310.5 611.3,312.2" stroke="#2a2a2a" stroke-width="1" fill="none" stroke-linejoin="round"/>
<polyline points="613,326 616.5,327.2 616.5,339.5 613,340.6" stroke="#2a2a2a" stroke-width="1" fill="none" stroke-linejoin="round"/>
<polygon points="423.9,415.2 429.29999999999995,417.59999999999997 429.29999999999995,436.2 419.79999999999995,439.5" stroke="#2a2a2a" stroke-width="1" fill="#eee" stroke-linejoin="round"/>
<line x1="427.59999999999997" y1="422.0" x2="427.59999999999997" y2="428.2" stroke="#333" stroke-width="1.6"/>
<polygon points="429.29999999999995,435.5 415.79999999999995,439.5 413.79999999999995,442.9 414.4,446.9 418.5,446.9 429.29999999999995,442.2" stroke="#2a2a2a" stroke-width="1" fill="#fff" stroke-linejoin="round"/>
<polyline points="415.79999999999995,439.5 416.5,441.5 429.29999999999995,437.5" stroke="#2a2a2a" stroke-width="1" fill="none" stroke-linejoin="round"/>
<polyline points="416.5,441.5 418.5,446.9" stroke="#2a2a2a" stroke-width="1" fill="none" stroke-linejoin="round"/>
<path d="M438.0,422.5 Q434.0,422.0 433.5,427.5 Q433.5,433.0 436.3,432.5 Q438.8,432.0 438.8,429.0 Q438.5,426.5 435.0,427.5" stroke="#222" stroke-width="1.5" fill="none" stroke-linejoin="round"/>
<polygon points="441.0,420.3 446.0,417.5 446.3,420.5 441.3,423.3" stroke="#222" stroke-width="1.3" fill="#222" stroke-linejoin="round"/>
<ellipse cx="443.8" cy="425.5" rx="0.9" ry="0.9" transform="rotate(0 443.8 425.5)" fill="#222" stroke="#222" stroke-width="1"/>
<path d="M449.5,416.0 L454.0,413.5 L454.5,421.5 L451.0,424.5 L450.0,420.5 L452.0,419.0 Z" stroke="#222" stroke-width="1.5" fill="#fff" stroke-linejoin="round"/>
<polygon points="460.3,444.2 491.2,427.5 491.5,440.9 460.4,461" stroke="#2a2a2a" stroke-width="1" fill="none" stroke-linejoin="round"/>
<polygon points="239.5,222.3 365.3,149.6 373.1,151.5 373.1,187.2 245.2,261.6 230,253 230,246 235.5,246" stroke="none" stroke-width="0" fill="#fff" stroke-linejoin="round"/>
<line x1="239.5" y1="222.3" x2="365.3" y2="149.6" stroke="#2a2a2a" stroke-width="1"/>
<line x1="244.7" y1="224.7" x2="372.7" y2="151.5" stroke="#2a2a2a" stroke-width="1"/>
<line x1="245.2" y1="261.6" x2="373.1" y2="187.2" stroke="#2a2a2a" stroke-width="1"/>
<line x1="373.1" y1="151.5" x2="373.1" y2="187.2" stroke="#2a2a2a" stroke-width="1"/>
<line x1="244.7" y1="225.7" x2="245.2" y2="261.6" stroke="#2a2a2a" stroke-width="1"/>
<polyline points="364.3,147.1 365.8,149.6 368.3,149.1 372.7,151.5" stroke="#2a2a2a" stroke-width="1" fill="none" stroke-linejoin="round"/>
<polyline points="373.8,165 377.3,166.2 377.3,178.5 373.8,179.6" stroke="#2a2a2a" stroke-width="1" fill="none" stroke-linejoin="round"/>
<polygon points="239.5,222.3 244.9,224.70000000000002 244.9,243.3 235.4,246.60000000000002" stroke="#2a2a2a" stroke-width="1" fill="#eee" stroke-linejoin="round"/>
<line x1="243.2" y1="229.10000000000002" x2="243.2" y2="235.3" stroke="#333" stroke-width="1.6"/>
<polygon points="244.9,242.60000000000002 231.4,246.60000000000002 229.4,250.0 230.0,254.0 234.1,254.0 244.9,249.3" stroke="#2a2a2a" stroke-width="1" fill="#fff" stroke-linejoin="round"/>
<polyline points="231.4,246.60000000000002 232.1,248.60000000000002 244.9,244.60000000000002" stroke="#2a2a2a" stroke-width="1" fill="none" stroke-linejoin="round"/>
<polyline points="232.1,248.60000000000002 234.1,254.0" stroke="#2a2a2a" stroke-width="1" fill="none" stroke-linejoin="round"/>
<path d="M253.0,227 Q249.0,226.5 248.5,232 Q248.5,237.5 251.3,237 Q253.8,236.5 253.8,233.5 Q253.5,231 250.0,232" stroke="#222" stroke-width="1.5" fill="none" stroke-linejoin="round"/>
<polygon points="256.0,224.8 261.0,222 261.3,225 256.3,227.8" stroke="#222" stroke-width="1.3" fill="#222" stroke-linejoin="round"/>
<ellipse cx="258.8" cy="230" rx="0.9" ry="0.9" transform="rotate(0 258.8 230)" fill="#222" stroke="#222" stroke-width="1"/>
<path d="M264.5,220.5 L269.0,218 L269.5,226 L266.0,229 L265.0,225 L267.0,223.5 Z" stroke="#222" stroke-width="1.5" fill="#fff" stroke-linejoin="round"/>
<polygon points="463,477.6 469.8,473 628.7,381.6 629.6,383.5 629.6,399.5 468.8,488 463.5,485" stroke="none" stroke-width="0" fill="#fff" stroke-linejoin="round"/>
<line x1="469.8" y1="473" x2="628.7" y2="381.6" stroke="#222" stroke-width="1.6"/>
<line x1="471.6" y1="476" x2="629.6" y2="389.3" stroke="#2a2a2a" stroke-width="1"/>
<line x1="473" y1="481.5" x2="629.6" y2="395.5" stroke="#2a2a2a" stroke-width="1"/>
<line x1="468.8" y1="488" x2="629.6" y2="399.5" stroke="#2a2a2a" stroke-width="1"/>
<line x1="629.6" y1="383.5" x2="629.6" y2="399.5" stroke="#2a2a2a" stroke-width="1"/>
<line x1="628.7" y1="381.6" x2="629.6" y2="383.5" stroke="#2a2a2a" stroke-width="1"/>
<polyline points="469.8,473 463,477.6 463.5,485 468.8,488" stroke="#2a2a2a" stroke-width="1" fill="none" stroke-linejoin="round"/>
<line x1="469.8" y1="473" x2="471.6" y2="476" stroke="#2a2a2a" stroke-width="1"/>
<line x1="471.6" y1="476" x2="471.6" y2="487" stroke="#2a2a2a" stroke-width="1"/>
<line x1="557.5" y1="413.5" x2="613.2" y2="382.5" stroke="#2a2a2a" stroke-width="1"/>
<line x1="558" y1="416.3" x2="614.5" y2="385" stroke="#2a2a2a" stroke-width="1"/>
<line x1="614.5" y1="382.5" x2="614.5" y2="388" stroke="#2a2a2a" stroke-width="1"/>
<line x1="557.5" y1="413.5" x2="558" y2="418" stroke="#2a2a2a" stroke-width="1"/>
<line x1="607.5" y1="396.5" x2="615.6" y2="392.5" stroke="#333" stroke-width="3.2"/>
<line x1="555" y1="425.5" x2="562.5" y2="421.5" stroke="#333" stroke-width="3"/>
<line x1="545" y1="432" x2="553.5" y2="427.5" stroke="#333" stroke-width="3"/>
<line x1="527.5" y1="438.5" x2="535" y2="434.8" stroke="#333" stroke-width="2.4"/>
<line x1="504.5" y1="456.5" x2="512.5" y2="452" stroke="#333" stroke-width="3"/>
<polygon points="471,466 477,463 478,468 472,471" stroke="#333" stroke-width="1" fill="#666" stroke-linejoin="round"/>
<line x1="472" y1="473" x2="480" y2="468.5" stroke="#333" stroke-width="1.5"/>
<line x1="483" y1="466" x2="490" y2="462" stroke="#333" stroke-width="1.8"/>
<line x1="482" y1="462.43" x2="483" y2="465.43" stroke="#555" stroke-width="0.8"/>
<line x1="484" y1="461.29" x2="485" y2="464.29" stroke="#555" stroke-width="0.8"/>
<line x1="486" y1="460.15" x2="487" y2="463.15" stroke="#555" stroke-width="0.8"/>
<line x1="488" y1="459.01" x2="489" y2="462.01" stroke="#555" stroke-width="0.8"/>
<line x1="490" y1="457.87" x2="491" y2="460.87" stroke="#555" stroke-width="0.8"/>
<line x1="492" y1="456.73" x2="493" y2="459.73" stroke="#555" stroke-width="0.8"/>
<line x1="494" y1="455.59" x2="495" y2="458.59" stroke="#555" stroke-width="0.8"/>
<line x1="496" y1="454.45" x2="497" y2="457.45" stroke="#555" stroke-width="0.8"/>
<polygon points="535,445.5 539,443.5 539.5,447 535.5,449" stroke="#333" stroke-width="1" fill="#fff" stroke-linejoin="round"/>
<line x1="480.5" y1="481.5" x2="482.5" y2="480.5" stroke="#333" stroke-width="2"/>
<line x1="328.6" y1="88.2" x2="324.8" y2="93" stroke="#222" stroke-width="2.2"/>
<ellipse cx="329.1" cy="87.9" rx="2.2" ry="1.6" transform="rotate(218.36748538486162 329.1 87.9)" fill="#222" stroke="#222" stroke-width="1"/>
<ellipse cx="327.46000000000004" cy="89.64" rx="1.6" ry="1.0" transform="rotate(218.36748538486162 327.46000000000004 89.64)" fill="#222" stroke="#222" stroke-width="1"/>
<line x1="329.4" y1="102" x2="324.8" y2="106.8" stroke="#222" stroke-width="2.2"/>
<ellipse cx="329.9" cy="101.7" rx="2.2" ry="1.6" transform="rotate(223.7811247648685 329.9 101.7)" fill="#222" stroke="#222" stroke-width="1"/>
<ellipse cx="328.02" cy="103.44" rx="1.6" ry="1.0" transform="rotate(223.7811247648685 328.02 103.44)" fill="#222" stroke="#222" stroke-width="1"/>
<line x1="385.8" y1="100.8" x2="381.1" y2="104.8" stroke="#222" stroke-width="2.2"/>
<ellipse cx="386.3" cy="100.5" rx="2.2" ry="1.6" transform="rotate(229.60009566626323 386.3 100.5)" fill="#222" stroke="#222" stroke-width="1"/>
<ellipse cx="384.39" cy="102.0" rx="1.6" ry="1.0" transform="rotate(229.60009566626323 384.39 102.0)" fill="#222" stroke="#222" stroke-width="1"/>
<line x1="385.8" y1="115.6" x2="380.4" y2="120.3" stroke="#222" stroke-width="2.2"/>
<ellipse cx="386.3" cy="115.3" rx="2.2" ry="1.6" transform="rotate(228.96465472285627 386.3 115.3)" fill="#222" stroke="#222" stroke-width="1"/>
<ellipse cx="384.18" cy="117.00999999999999" rx="1.6" ry="1.0" transform="rotate(228.96465472285627 384.18 117.00999999999999)" fill="#222" stroke="#222" stroke-width="1"/>
<line x1="584.6" y1="232.5" x2="579.9" y2="236.6" stroke="#222" stroke-width="2.2"/>
<ellipse cx="585.1" cy="232.2" rx="2.2" ry="1.6" transform="rotate(228.9004937423822 585.1 232.2)" fill="#222" stroke="#222" stroke-width="1"/>
<ellipse cx="583.19" cy="233.73" rx="1.6" ry="1.0" transform="rotate(228.9004937423822 583.19 233.73)" fill="#222" stroke="#222" stroke-width="1"/>
<line x1="584.6" y1="247.4" x2="579.9" y2="250.7" stroke="#222" stroke-width="2.2"/>
<ellipse cx="585.1" cy="247.1" rx="2.2" ry="1.6" transform="rotate(234.92624550665212 585.1 247.1)" fill="#222" stroke="#222" stroke-width="1"/>
<ellipse cx="583.19" cy="248.39" rx="1.6" ry="1.0" transform="rotate(234.92624550665212 583.19 248.39)" fill="#222" stroke="#222" stroke-width="1"/>
<line x1="634.5" y1="248.2" x2="628.7" y2="253" stroke="#222" stroke-width="2.2"/>
<ellipse cx="635.0" cy="247.89999999999998" rx="2.2" ry="1.6" transform="rotate(230.38931175997314 635.0 247.89999999999998)" fill="#222" stroke="#222" stroke-width="1"/>
<ellipse cx="632.76" cy="249.64" rx="1.6" ry="1.0" transform="rotate(230.38931175997314 632.76 249.64)" fill="#222" stroke="#222" stroke-width="1"/>
<line x1="634.5" y1="263.6" x2="628.7" y2="267.4" stroke="#222" stroke-width="2.2"/>
<ellipse cx="635.0" cy="263.3" rx="2.2" ry="1.6" transform="rotate(236.76828893202077 635.0 263.3)" fill="#222" stroke="#222" stroke-width="1"/>
<ellipse cx="632.76" cy="264.74" rx="1.6" ry="1.0" transform="rotate(236.76828893202077 632.76 264.74)" fill="#222" stroke="#222" stroke-width="1"/>
<polygon points="50,231 54,229.5 57,232 57.5,236 55,238.5 51,238" stroke="#333" stroke-width="1" fill="#fff" stroke-linejoin="round"/>
<polygon points="44,234 49.5,233 49.5,243 44,244" stroke="#333" stroke-width="1.1" fill="#fff" stroke-linejoin="round"/>
<line x1="46.8" y1="234.5" x2="46.8" y2="242.5" stroke="#444" stroke-width="1.2"/>
<path d="M40.5,233.5 Q41,230 45,229.5 Q49,229.5 50,232 Q48,235 44,236 Q41,236 40.5,233.5 Z" stroke="#222" stroke-width="1" fill="#5a5a5a" stroke-linejoin="round"/>
<path d="M40.5,246 Q41,243.5 44,243 Q47.5,242.5 48,244.5 Q47,247.5 43.5,248 Q40.5,248 40.5,246 Z" stroke="#222" stroke-width="1" fill="#5a5a5a" stroke-linejoin="round"/>
<ellipse cx="52.5" cy="234" rx="1.2" ry="1.5" transform="rotate(0 52.5 234)" fill="#fff" stroke="#555" stroke-width="1"/>
<polygon points="195.5,250 199.5,248.5 202.5,251 203.0,255 200.5,257.5 196.5,257" stroke="#333" stroke-width="1" fill="#fff" stroke-linejoin="round"/>
<polygon points="189.5,253 195.0,252 195.0,262 189.5,263" stroke="#333" stroke-width="1.1" fill="#fff" stroke-linejoin="round"/>
<line x1="192.3" y1="253.5" x2="192.3" y2="261.5" stroke="#444" stroke-width="1.2"/>
<path d="M186.0,252.5 Q186.5,249 190.5,248.5 Q194.5,248.5 195.5,251 Q193.5,254 189.5,255 Q186.5,255 186.0,252.5 Z" stroke="#222" stroke-width="1" fill="#5a5a5a" stroke-linejoin="round"/>
<path d="M186.0,265 Q186.5,262.5 189.5,262 Q193.0,261.5 193.5,263.5 Q192.5,266.5 189.0,267 Q186.0,267 186.0,265 Z" stroke="#222" stroke-width="1" fill="#5a5a5a" stroke-linejoin="round"/>
<ellipse cx="198.0" cy="253" rx="1.2" ry="1.5" transform="rotate(0 198.0 253)" fill="#fff" stroke="#555" stroke-width="1"/>
<polygon points="378,355 382,353.5 385,356 385.5,360 383,362.5 379,362" stroke="#333" stroke-width="1" fill="#fff" stroke-linejoin="round"/>
<polygon points="372,358 377.5,357 377.5,367 372,368" stroke="#333" stroke-width="1.1" fill="#fff" stroke-linejoin="round"/>
<line x1="374.8" y1="358.5" x2="374.8" y2="366.5" stroke="#444" stroke-width="1.2"/>
<path d="M368.5,357.5 Q369,354 373,353.5 Q377,353.5 378,356 Q376,359 372,360 Q369,360 368.5,357.5 Z" stroke="#222" stroke-width="1" fill="#5a5a5a" stroke-linejoin="round"/>
<path d="M368.5,370 Q369,367.5 372,367 Q375.5,366.5 376,368.5 Q375,371.5 371.5,372 Q368.5,372 368.5,370 Z" stroke="#222" stroke-width="1" fill="#5a5a5a" stroke-linejoin="round"/>
<ellipse cx="380.5" cy="358" rx="1.2" ry="1.5" transform="rotate(0 380.5 358)" fill="#fff" stroke="#555" stroke-width="1"/>
<polygon points="364,412.5 368,411.0 371,413.5 371.5,417.5 369,420.0 365,419.5" stroke="#333" stroke-width="1" fill="#fff" stroke-linejoin="round"/>
<polygon points="358,415.5 363.5,414.5 363.5,424.5 358,425.5" stroke="#333" stroke-width="1.1" fill="#fff" stroke-linejoin="round"/>
<line x1="360.8" y1="416.0" x2="360.8" y2="424.0" stroke="#444" stroke-width="1.2"/>
<path d="M354.5,415.0 Q355,411.5 359,411.0 Q363,411.0 364,413.5 Q362,416.5 358,417.5 Q355,417.5 354.5,415.0 Z" stroke="#222" stroke-width="1" fill="#5a5a5a" stroke-linejoin="round"/>
<path d="M354.5,427.5 Q355,425.0 358,424.5 Q361.5,424.0 362,426.0 Q361,429.0 357.5,429.5 Q354.5,429.5 354.5,427.5 Z" stroke="#222" stroke-width="1" fill="#5a5a5a" stroke-linejoin="round"/>
<ellipse cx="366.5" cy="415.5" rx="1.2" ry="1.5" transform="rotate(0 366.5 415.5)" fill="#fff" stroke="#555" stroke-width="1"/>
<ellipse cx="40" cy="172" rx="1.6" ry="1.6" transform="rotate(0 40 172)" fill="none" stroke="#555" stroke-width="1"/>
<ellipse cx="345" cy="349" rx="1.6" ry="1.6" transform="rotate(0 345 349)" fill="none" stroke="#555" stroke-width="1"/>
<polyline points="199,250.5 232,236" stroke="#333" stroke-width="1.1" fill="none" stroke-dasharray="1.6 2.6"/>
<polyline points="385,358 400,350" stroke="#333" stroke-width="1.1" fill="none" stroke-dasharray="1.6 2.6"/>
<rect x="600.5" y="83.5" width="25" height="25" fill="#fff" stroke="#333" stroke-width="1"/>
<text x="613.0" y="102.2" text-anchor="middle" font-family="Liberation Sans" font-size="17" fill="#404040">5</text>
<line x1="613.5" y1="108.5" x2="613.5" y2="240.5" stroke="#2a2a2a" stroke-width="1"/>
<rect x="470.5" y="149.5" width="26" height="26" fill="#fff" stroke="#333" stroke-width="1"/>
<text x="483.5" y="168.7" text-anchor="middle" font-family="Liberation Sans" font-size="17" fill="#404040">4</text>
<line x1="483.5" y1="175.5" x2="483.5" y2="268.5" stroke="#2a2a2a" stroke-width="1"/>
<rect x="537.5" y="149.5" width="26" height="26" fill="#fff" stroke="#333" stroke-width="1"/>
<text x="550.5" y="168.7" text-anchor="middle" font-family="Liberation Sans" font-size="17" fill="#404040">6</text>
<line x1="550.5" y1="175.5" x2="550.5" y2="250" stroke="#2a2a2a" stroke-width="1"/>
<rect x="576.5" y="149.5" width="26" height="26" fill="#fff" stroke="#333" stroke-width="1"/>
<text x="589.5" y="168.7" text-anchor="middle" font-family="Liberation Sans" font-size="17" fill="#404040">3</text>
<line x1="589.5" y1="175.5" x2="589.5" y2="278" stroke="#2a2a2a" stroke-width="1"/>
<rect x="674.5" y="355.5" width="25" height="26" fill="#fff" stroke="#333" stroke-width="1"/>
<text x="687.0" y="374.7" text-anchor="middle" font-family="Liberation Sans" font-size="17" fill="#404040">2</text>
<line x1="545" y1="369.5" x2="674.5" y2="369.5" stroke="#2a2a2a" stroke-width="1"/>
<rect x="674.5" y="416.5" width="25" height="26" fill="#fff" stroke="#333" stroke-width="1"/>
<text x="687.0" y="435.7" text-anchor="middle" font-family="Liberation Sans" font-size="17" fill="#404040">1</text>
<line x1="557" y1="429.5" x2="674.5" y2="429.5" stroke="#2a2a2a" stroke-width="1"/>
<rect x="33.5" y="466.5" width="26" height="26" fill="#fff" stroke="#333" stroke-width="1"/>
<text x="46.5" y="485.7" text-anchor="middle" font-family="Liberation Sans" font-size="17" fill="#404040">7</text>
<line x1="46.5" y1="247" x2="46.5" y2="466.5" stroke="#2a2a2a" stroke-width="1"/>
<line x1="188" y1="266" x2="46.5" y2="466.5" stroke="#2a2a2a" stroke-width="1"/></svg>
</body></html>
